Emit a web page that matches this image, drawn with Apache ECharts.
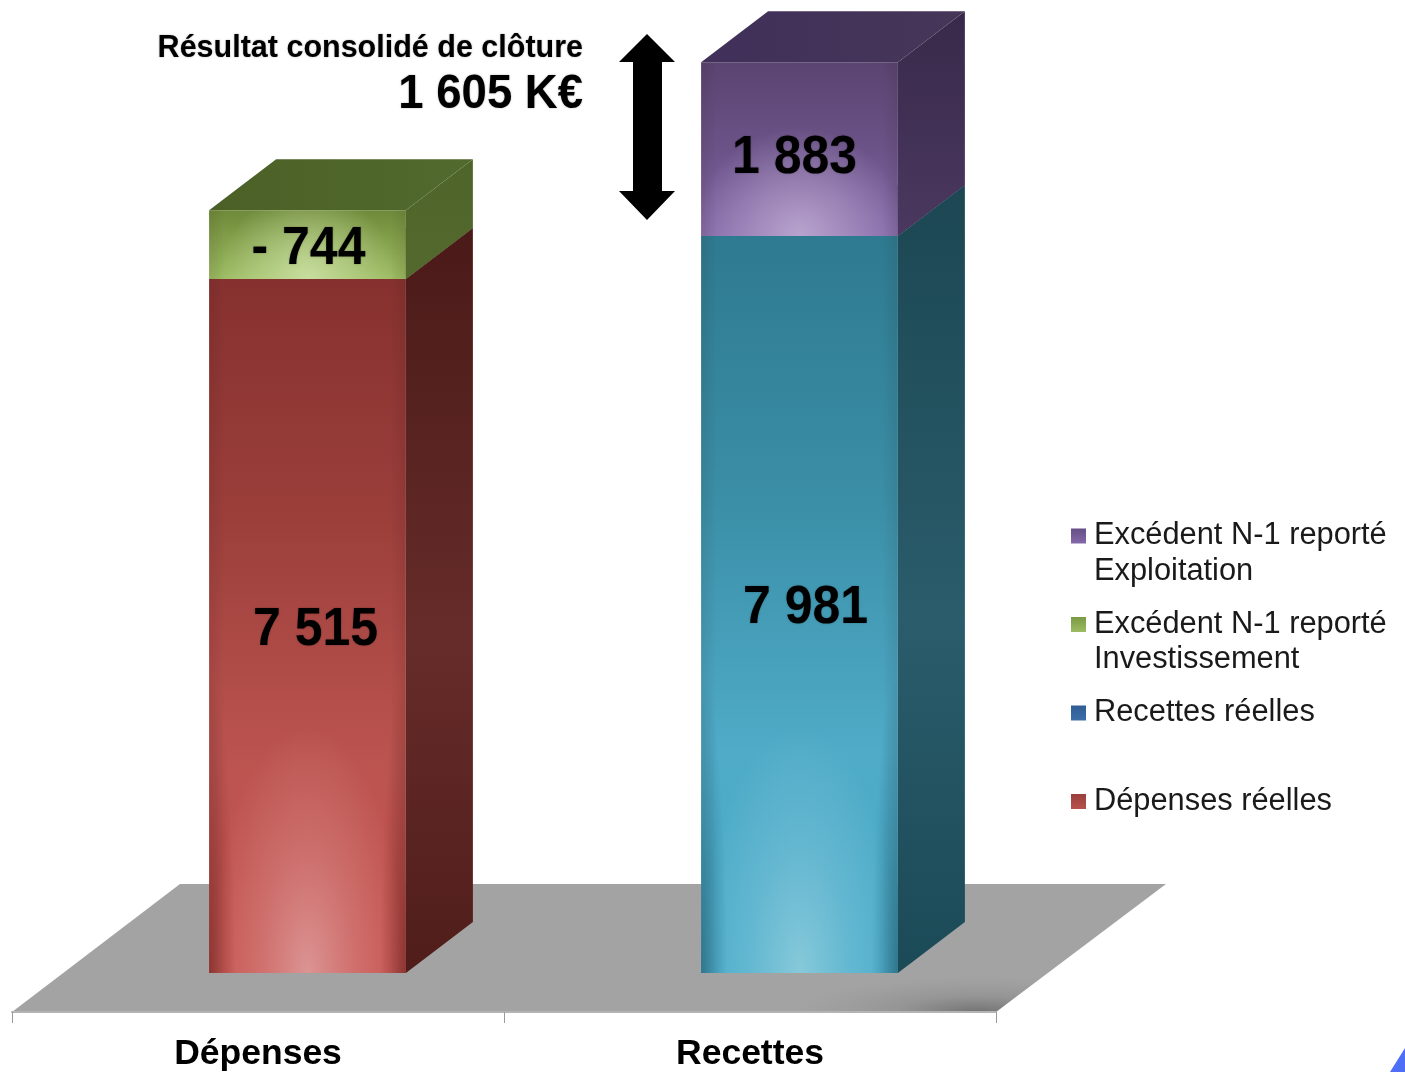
<!DOCTYPE html>
<html lang="fr">
<head>
<meta charset="utf-8">
<title>Résultat consolidé de clôture</title>
<script src="https://cdn.jsdelivr.net/npm/echarts@6/dist/echarts.min.js"></script>
<style>html,body{margin:0;padding:0;background:#fff}#chart{width:1405px;height:1072px}</style>
</head>
<body>
<div id="chart"></div>
<script>
const categories = ['Dépenses', 'Recettes'];
const depensesReelles = [7515, null];
const excedentInvestissement = [744, null];
const recettesReelles = [null, 7981];
const excedentExploitation = [null, 1883];
const labelsDepensesReelles = ['7 515', null];
const labelsInvestissement = ['- 744', null];
const labelsRecettes = [null, '7 981'];
const labelsExploitation = [null, '1 883'];
const legendOrder = ['Excédent N-1 reporté\nExploitation', 'Excédent N-1 reporté\nInvestissement', 'Recettes réelles', 'Dépenses réelles'];

const FONT = '"Liberation Sans", Arial, sans-serif';
const OFFSET = {x: 49.5, y: -39};
const DEPTH = {x: 67, y: -51};
const lin = (x, y, x2, y2, stops) => new echarts.graphic.LinearGradient(x, y, x2, y2, stops.map(c => ({offset: c[0], color: c[1]})));
const rad = (x, y, r, stops) => new echarts.graphic.RadialGradient(x, y, r, stops.map(c => ({offset: c[0], color: c[1]})));

const themes = {
  red: {
    front: [[0, '#86312f'], [0.35, '#9c3f3b'], [0.7, '#bc5450'], [1, '#c6544f']],
    glow: [[0, 'rgba(222,160,160,0.85)'], [0.5, 'rgba(222,150,150,0.4)'], [1, 'rgba(222,150,150,0)']],
    corner: 'rgba(90,25,25,0.45)',
    side: [[0, '#4a1a18'], [0.55, '#662c29'], [1, '#501d1b']],
    top: ['#4a1a18', '#4a1a18'], stretch: 2.5, glowR: 0.5, legend: ['#b8504d', '#9a3f3c']
  },
  green: {
    front: [[0, '#6f8a3a'], [1, '#9cbc62']],
    glow: [[0, 'rgba(205,225,165,0.9)'], [1, 'rgba(205,225,165,0)']],
    side: [[0, '#4e6429'], [1, '#54692e']],
    top: ['#4b6026', '#526a2d'], stretch: 1, glowR: 1.3, legend: ['#9cbc62', '#7b9a44']
  },
  teal: {
    front: [[0, '#2e7a90'], [0.35, '#3a8ea6'], [0.7, '#4fabc8'], [1, '#4badca']],
    glow: [[0, 'rgba(150,208,222,0.8)'], [0.5, 'rgba(145,205,222,0.35)'], [1, 'rgba(145,205,222,0)']],
    corner: 'rgba(20,70,90,0.45)',
    side: [[0, '#1c4753'], [0.55, '#2a5c6b'], [1, '#1b4a57']],
    top: ['#1c4753', '#1c4753'], stretch: 2.5, glowR: 0.5, legend: ['#3d6fa8', '#2f5d94']
  },
  purple: {
    front: [[0, '#5a4470'], [0.5, '#6b5388'], [1, '#8468a8']],
    glow: [[0, 'rgba(190,170,210,0.9)'], [1, 'rgba(190,170,210,0)']],
    side: [[0, '#38294a'], [1, '#4b3860']],
    top: ['#40305a', '#463658'], stretch: 1, glowR: 0.62, legend: ['#8468a8', '#664f86']
  }
};

const stackTotals = categories.map(() => 0);
function makeStack(values) {
  return values.map((v, i) => {
    if (v === null) return null;
    const start = stackTotals[i];
    stackTotals[i] += v;
    return [i, start, stackTotals[i]];
  }).filter(Boolean);
}

function barSeries(name, values, labels, theme, shift) {
  return {
    name, type: 'custom', coordinateSystem: 'cartesian2d',
    data: makeStack(values),
    encode: {x: 0, y: [1, 2]},
    clip: false, silent: true, z: 3,
    itemStyle: {color: themes[theme].legend[0]},
    renderItem(params, api) {
      const cat = api.value(0);
      const a = api.coord([cat, api.value(1)]);
      const b = api.coord([cat, api.value(2)]);
      const w = api.size([1, 0])[0] * 0.4;
      const x0 = a[0] + OFFSET.x - w / 2, x1 = x0 + w;
      const yb = a[1] + OFFSET.y, yt = b[1] + OFFSET.y;
      const h = yb - yt;
      const t = themes[theme];
      const poly = (points, fill) => ({type: 'polygon', shape: {points}, style: {fill}});
      const rect = (fill) => ({type: 'rect', shape: {x: x0, y: yt, width: w, height: h}, style: {fill}});
      const s = t.stretch;
      const children = [
        poly([[x1, yb], [x1 + DEPTH.x, yb + DEPTH.y], [x1 + DEPTH.x, yt + DEPTH.y], [x1, yt]], lin(0, 0, 0, 1, t.side)),
        poly([[x0, yt], [x1, yt], [x1 + DEPTH.x, yt + DEPTH.y], [x0 + DEPTH.x, yt + DEPTH.y]], lin(0, 0, 1, 0, [[0, t.top[0]], [1, t.top[1]]])),
        rect(lin(0, 0, 0, 1, t.front)),
        {type: 'rect', x: x0, y: yb - h, scaleY: s, shape: {x: 0, y: 0, width: w, height: h / s}, style: {fill: rad(0.5, 1, t.glowR, t.glow)}},
        rect(lin(0, 0, 1, 0, [[0, 'rgba(40,15,15,0.1)'], [0.08, 'rgba(40,15,15,0)'], [0.92, 'rgba(40,15,15,0)'], [1, 'rgba(40,15,15,0.1)']]))
      ];
      if (t.corner) {
        const cw = 26, ch = 300, k = ch / cw;
        const fill = (cx) => rad(cx, 1, 1, [[0, t.corner], [1, t.corner.replace(/[\d.]+\)$/, '0)')]]);
        children.push(
          {type: 'rect', x: x0, y: yb - ch, scaleY: k, shape: {x: 0, y: 0, width: cw, height: cw}, style: {fill: fill(0)}},
          {type: 'rect', x: x1 - cw, y: yb - ch, scaleY: k, shape: {x: 0, y: 0, width: cw, height: cw}, style: {fill: fill(1)}}
        );
      }
      children.push({
        type: 'text', x: x0 + w / 2 + shift[0], y: yt + h / 2 + shift[1], scaleY: 1.06,
        style: {text: labels[cat], x: 0, y: 0, align: 'center', verticalAlign: 'middle', fill: '#000',
          font: 'bold 50px ' + FONT, textShadowColor: 'rgba(0,0,0,0.3)', textShadowBlur: 2}
      });
      return {type: 'group', children};
    }
  };
}

const floorSeries = {
  name: 'plancher', type: 'custom', coordinateSystem: 'cartesian2d',
  data: [[0, 0]], clip: false, silent: true, z: 1,
  renderItem(params) {
    const cs = params.coordSys;
    const xl = cs.x, xr = cs.x + cs.width, y = cs.y + cs.height;
    const pts = [[xl, y], [xr, y], [xr + 170, y - 128], [xl + 168, y - 128]];
    const k = 5, sw = 253, sh = 36;
    return {
      type: 'group',
      children: [
        {type: 'polygon', shape: {points: pts}, style: {fill: '#a3a3a3'}},
        {type: 'polygon', x: xr + 47 - sw, y: y - sh, scaleX: k,
          shape: {points: [[0, 0], [sw / k, 0], [(sw - 47) / k, sh], [0, sh]]},
          style: {fill: rad(0.74, 1, 1, [[0, 'rgba(85,85,85,0.62)'], [0.45, 'rgba(100,100,100,0.22)'], [1, 'rgba(120,120,120,0)']])}}
      ]
    };
  }
};

const seriesList = [
  floorSeries,
  barSeries('Dépenses réelles', depensesReelles, labelsDepensesReelles, 'red', [8, 4]),
  barSeries('Excédent N-1 reporté\nInvestissement', excedentInvestissement, labelsInvestissement, 'green', [1, 5]),
  barSeries('Recettes réelles', recettesReelles, labelsRecettes, 'teal', [6, 4]),
  barSeries('Excédent N-1 reporté\nExploitation', excedentExploitation, labelsExploitation, 'purple', [-5, 9])
];

const legendThemes = ['purple', 'green', 'teal', 'red'];
const chart = echarts.init(document.getElementById('chart'), null, {renderer: 'canvas'});
const textShadow = {textShadowColor: 'rgba(0,0,0,0.3)', textShadowBlur: 2};
chart.setOption({
  animation: false,
  backgroundColor: '#ffffff',
  grid: {left: 12, top: 88.6, width: 984, height: 923.4, containLabel: false, outerBoundsMode: 'none'},
  xAxis: {
    type: 'category', data: categories, boundaryGap: true, z: 5,
    axisLine: {show: true, lineStyle: {color: '#b4b4b4', width: 2}},
    axisTick: {show: true, length: 11, lineStyle: {color: '#9a9a9a', width: 1}},
    axisLabel: {color: '#000', fontWeight: 'bold', fontFamily: FONT, fontSize: 35.5, margin: 24}
  },
  yAxis: {type: 'value', min: 0, max: 10000, show: false},
  legend: {
    orient: 'vertical', left: 1071, top: 482.75, padding: 0, itemGap: -18, itemWidth: 15, itemHeight: 15,
    selectedMode: false,
    formatter(name) {
      const lines = name.split('\n');
      return '\n' + lines.join('\n') + (lines.length === 1 ? '\n ' : '');
    },
    textStyle: {color: '#1a1a1a', fontFamily: FONT, fontSize: 30.8, lineHeight: 35.5, padding: [0, 0, 0, 3]},
    data: legendOrder.map((name, i) => ({
      name, icon: 'rect',
      itemStyle: {color: lin(0, 0, 0, 1, [[0, themes[legendThemes[i]].legend[1]], [1, themes[legendThemes[i]].legend[0]]])}
    }))
  },
  series: seriesList,
  graphic: [
    {type: 'text', x: 583, y: 48, z: 10, scaleY: 1.05, style: Object.assign({text: 'Résultat consolidé de clôture', align: 'right', verticalAlign: 'middle', fill: '#000', font: 'bold 30.5px ' + FONT}, textShadow)},
    {type: 'text', x: 583, y: 95, z: 10, scaleY: 1.05, style: Object.assign({text: '1 605 K€', align: 'right', verticalAlign: 'middle', fill: '#000', font: 'bold 45.5px ' + FONT}, textShadow)},
    {type: 'polygon', z: 10, shape: {points: [[647, 34], [675, 62], [662, 62], [662, 191], [675, 191], [647, 220], [619, 191], [633, 191], [633, 62], [619, 62]]}, style: {fill: '#000'}},
    {type: 'polygon', z: 10, shape: {points: [[1405, 1048], [1405, 1072], [1390, 1072]]}, style: {fill: '#4d6ef5'}}
  ]
});
</script>
</body>
</html>
